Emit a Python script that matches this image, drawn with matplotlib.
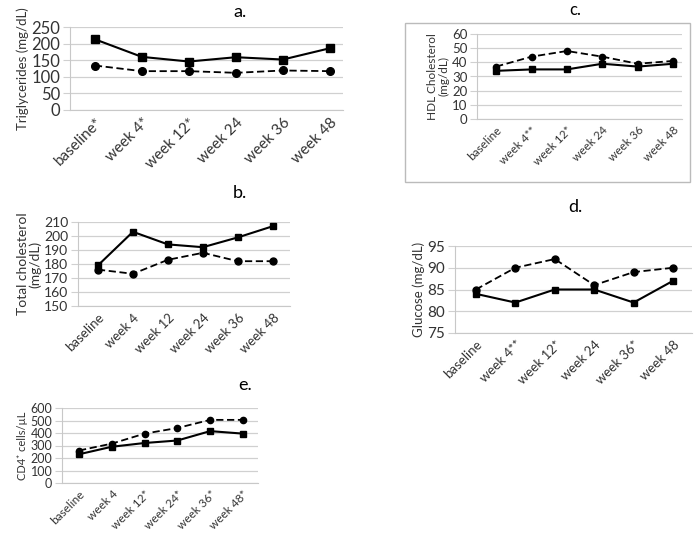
import numpy as np
import matplotlib
matplotlib.use("Agg")
import matplotlib.pyplot as plt
from matplotlib.patches import Rectangle

plt.rcParams['font.family'] = ['Lato', 'DejaVu Sans']

# data
weeks = np.arange(6)

tg_labels = ["baseline*", "week 4*", "week 12*", "week 24", "week 36", "week 48"]
tg_solid = [213, 160, 146, 159, 152, 186]
tg_dashed = [134, 117, 117, 112, 119, 117]

tc_labels = ["baseline", "week 4", "week 12", "week 24", "week 36", "week 48"]
tc_solid = [179, 203, 194, 192, 199, 207]
tc_dashed = [176, 173, 183, 188, 182, 182]

hdl_labels = ["baseline", "week 4**", "week 12*", "week 24", "week 36", "week 48"]
hdl_solid = [34, 35, 35, 39, 37, 39]
hdl_dashed = [37, 44, 48, 44, 39, 41]

glu_labels = ["baseline", "week 4**", "week 12*", "week 24", "week 36*", "week 48"]
glu_solid = [84, 82, 85, 85, 82, 87]
glu_dashed = [85, 90, 92, 86, 89, 90]

cd4_labels = ["baseline", "week 4", "week 12*", "week 24*", "week 36*", "week 48*"]
cd4_solid = [230, 290, 320, 340, 415, 395]
cd4_dashed = [260, 315, 395, 440, 505, 505]

W, H = 697, 536
fig = plt.figure(figsize=(W / 100, H / 100), dpi=100)


def add_ax(l, t, r, b):
    return fig.add_axes([l / W, 1 - b / H, (r - l) / W, (b - t) / H])


def panel(ax, labels, solid, dashed, ylim, yticks, ylabel, xlim, xfs, yfs, lfs, ms):
    ax.plot(weeks, solid, color='black', lw=1.5, marker='s', ms=ms)
    ax.plot(weeks, dashed, color='black', lw=1.3, ls=(0, (4, 2)), marker='o', ms=ms)
    ax.set_ylim(*ylim)
    ax.set_yticks(yticks)
    ax.set_xlim(*xlim)
    ax.set_xticks(weeks)
    ax.set_xticklabels(labels, rotation=45, ha='right', rotation_mode='anchor', fontsize=xfs, color='#333333')
    ax.tick_params(axis='y', labelsize=yfs, length=5, width=0.8, color='#d0d0d0', labelcolor='#333333', pad=2)
    ax.tick_params(axis='x', length=0, pad=4)
    ax.grid(axis='y', color='#d0d0d0', lw=0.9)
    ax.set_axisbelow(True)
    for s in ['top', 'right']:
        ax.spines[s].set_visible(False)
    ax.spines['left'].set_color('#c8c8c8')
    ax.spines['bottom'].set_color('#c8c8c8')
    ax.set_ylabel(ylabel, fontsize=lfs, color='#333333', labelpad=2, linespacing=1.0)


# a. triglycerides
ax = add_ax(70, 27, 343, 110)
panel(ax, tg_labels, tg_solid, tg_dashed, (0, 250), np.arange(0, 251, 50),
      "Triglycerides (mg/dL)", (-0.53, 5.28), 11, 12, 9.5, 5.5)
fig.text(240 / W, 1 - 12 / H, "a.", fontsize=13, ha='center', va='center')

# b. total cholesterol
ax = add_ax(78, 222, 290, 306)
panel(ax, tc_labels, tc_solid, tc_dashed, (150, 210), np.arange(150, 211, 10),
      "Total cholesterol\n(mg/dL)", (-0.57, 5.49), 9.5, 10, 10, 5)
fig.text(240 / W, 1 - 193 / H, "b.", fontsize=13, ha='center', va='center')

# c. HDL cholesterol (boxed)
fig.patches.append(Rectangle((405 / W, 1 - 182 / H), (690 - 405) / W, (182 - 23) / H,
                             transform=fig.transFigure, fill=False, edgecolor='#bbbbbb', lw=1))
ax = add_ax(477, 34, 682, 119)
panel(ax, hdl_labels, hdl_solid, hdl_dashed, (0, 60), np.arange(0, 61, 10),
      "HDL Cholesterol\n(mg/dL)", (-0.54, 5.25), 8.5, 9.5, 8.5, 4.5)
fig.text(575 / W, 1 - 10 / H, "c.", fontsize=12, ha='center', va='center')

# d. glucose
ax = add_ax(455, 246, 692, 333)
panel(ax, glu_labels, glu_solid, glu_dashed, (75, 95), np.arange(75, 96, 5),
      "Glucose (mg/dL)", (-0.53, 5.48), 9.5, 11, 9.5, 5)
fig.text(575 / W, 1 - 207 / H, "d.", fontsize=13, ha='center', va='center')

# e. CD4 cells
ax = add_ax(62, 408, 258, 483)
panel(ax, cd4_labels, cd4_solid, cd4_dashed, (0, 600), np.arange(0, 601, 100),
      "CD4\u207a cells/\u00b5L", (-0.52, 5.46), 8.5, 9, 8, 4.5)
fig.text(245 / W, 1 - 385 / H, "e.", fontsize=13, ha='center', va='center')

fig.savefig("out.png", dpi=100)
